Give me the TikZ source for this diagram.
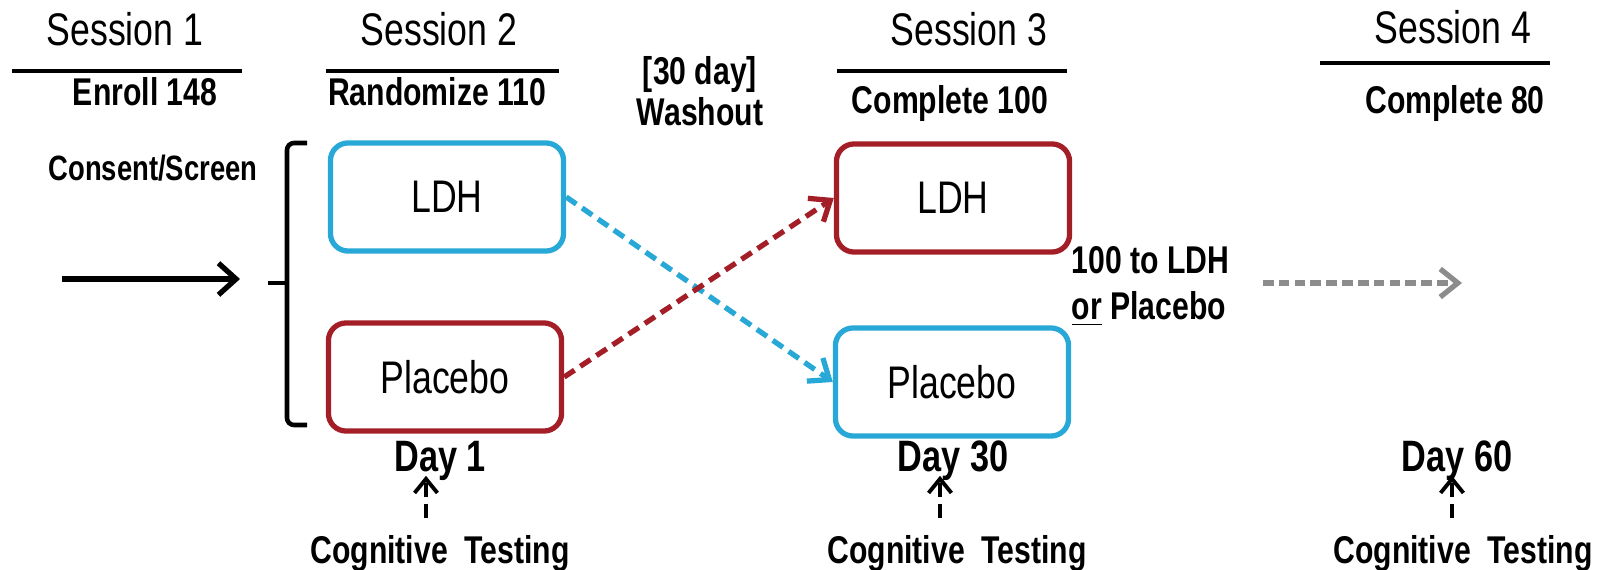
\documentclass[tikz,border=0pt]{standalone}
\usepackage{fontspec}
\setmainfont{Liberation Sans}[FakeStretch=0.78]
\usepackage{xcolor}
\usetikzlibrary{arrows.meta}
\definecolor{ldhblue}{RGB}{40,168,214}
\definecolor{plcred}{RGB}{164,30,40}
\definecolor{nextgray}{RGB}{140,140,140}
\tikzset{sess/.style={anchor=base,inner sep=0pt,font=\fontsize{13}{15}\selectfont}}
\tikzset{hdr/.style={anchor=base,inner sep=0pt,font=\bfseries\fontsize{11}{13}\selectfont}}
\tikzset{dayl/.style={anchor=base,inner sep=0pt,font=\bfseries\fontsize{12.5}{14}\selectfont}}
\tikzset{armbox/.style={draw,line width=1.5pt,rounded corners=5pt,minimum width=2.33cm,minimum height=1.08cm,font=\fontsize{13}{15}\selectfont}}
\tikzset{hline/.style={line width=1pt}}
\tikzset{cross/.style={line width=1.5pt,dash pattern=on 3.5pt off 2pt,-{Straight Barb[length=5pt,width=8pt]}}}
\tikzset{testarrow/.style={line width=1.1pt,dash pattern=on 4pt off 2pt,shorten <=0.16cm,-{Straight Barb[length=4pt,width=6.5pt]}}}

\begin{document}
\begin{tikzpicture}[x=0.01cm,y=-0.01cm]
            \useasboundingbox (0,0) rectangle (1600,570);
            % draw the session headers
            \node[sess] (s1) at (125,46) {Session 1};
            \node[sess] (s2) at (439,46) {Session 2};
            \node[sess] (s3) at (969,46) {Session 3};
            \node[sess] (s4) at (1453,44) {Session 4};
            \draw[hline] (12,71) -- (242,71);
            \draw[hline] (326,71) -- (559,71);
            \draw[hline] (837,71) -- (1067,71);
            \draw[hline] (1320,63) -- (1550,63);
            \node[hdr] (enr) at (145,106) {Enroll 148};
            \node[hdr] (rnd) at (437,106) {Randomize 110};
            \node[hdr] (cmp3) at (950,114) {Complete 100};
            \node[hdr] (cmp4) at (1455,114) {Complete 80};
            \node[anchor=north,inner sep=0pt,align=center,font=\bfseries\fontsize{11}{11.6}\selectfont] (wash) at (700,56) {[30 day]\\Washout};
            % draw the consent arrow and bracket
            \node[hdr,font=\bfseries\fontsize{10}{12}\selectfont] (cons) at (153,181) {Consent/Screen};
            \coordinate (in1) at (62,279);
            \coordinate (in2) at (240,279);
            \draw[line width=1.5pt,-{Straight Barb[length=5pt,width=9pt]}] (in1) -- (in2);
            \draw[line width=1.3pt,rounded corners=2pt] (307,143) -| (287,425) -- (307,425);
            \draw[line width=1.3pt] (268,283) -- (287,283);
            % draw the arms
            \node[armbox,ldhblue,text=black] (ldhA) at (447,197) {LDH};
            \node[armbox,plcred,text=black] (plcA) at (445,377) {Placebo};
            \node[armbox,plcred,text=black] (ldhB) at (953,198) {LDH};
            \node[armbox,ldhblue,text=black] (plcB) at (952,382) {Placebo};
            \draw[cross,ldhblue] (ldhA.east) -- (plcB.west);
            \draw[cross,plcred] (plcA.east) -- (ldhB.west);
            % draw the last session
            \node[anchor=north west,inner sep=0pt,align=left,font=\bfseries\fontsize{11}{13}\selectfont] (nxt) at (1071,246) {100 to LDH\\\underline{or} Placebo};
            \coordinate (g1) at (1263,283);
            \coordinate (g2) at (1462,283);
            \draw[nextgray,line width=1.5pt,dash pattern=on 3pt off 1.5pt,-{Straight Barb[length=5pt,width=8pt]}] (g1) -- (g2);
            % draw the testing days
            \node[dayl] (day1) at (440,471) {Day 1};
            \node[dayl] (day30) at (953,471) {Day 30};
            \node[dayl] (day60) at (1457,471) {Day 60};
            \node[hdr] (cog1) at (440,563) {Cognitive\ \ Testing};
            \node[hdr] (cog30) at (957,563) {Cognitive\ \ Testing};
            \node[hdr] (cog60) at (1463,563) {Cognitive\ \ Testing};
            \coordinate (t1) at ([xshift=-0.14cm,yshift=0.05cm]day1.south);
            \coordinate (t30) at ([xshift=-0.13cm,yshift=0.05cm]day30.south);
            \coordinate (t60) at ([xshift=-0.05cm,yshift=0.05cm]day60.south);
            \draw[testarrow] (t1 |- cog1.north) -- (t1);
            \draw[testarrow] (t30 |- cog30.north) -- (t30);
            \draw[testarrow] (t60 |- cog60.north) -- (t60);
        \end{tikzpicture}
\end{document}
